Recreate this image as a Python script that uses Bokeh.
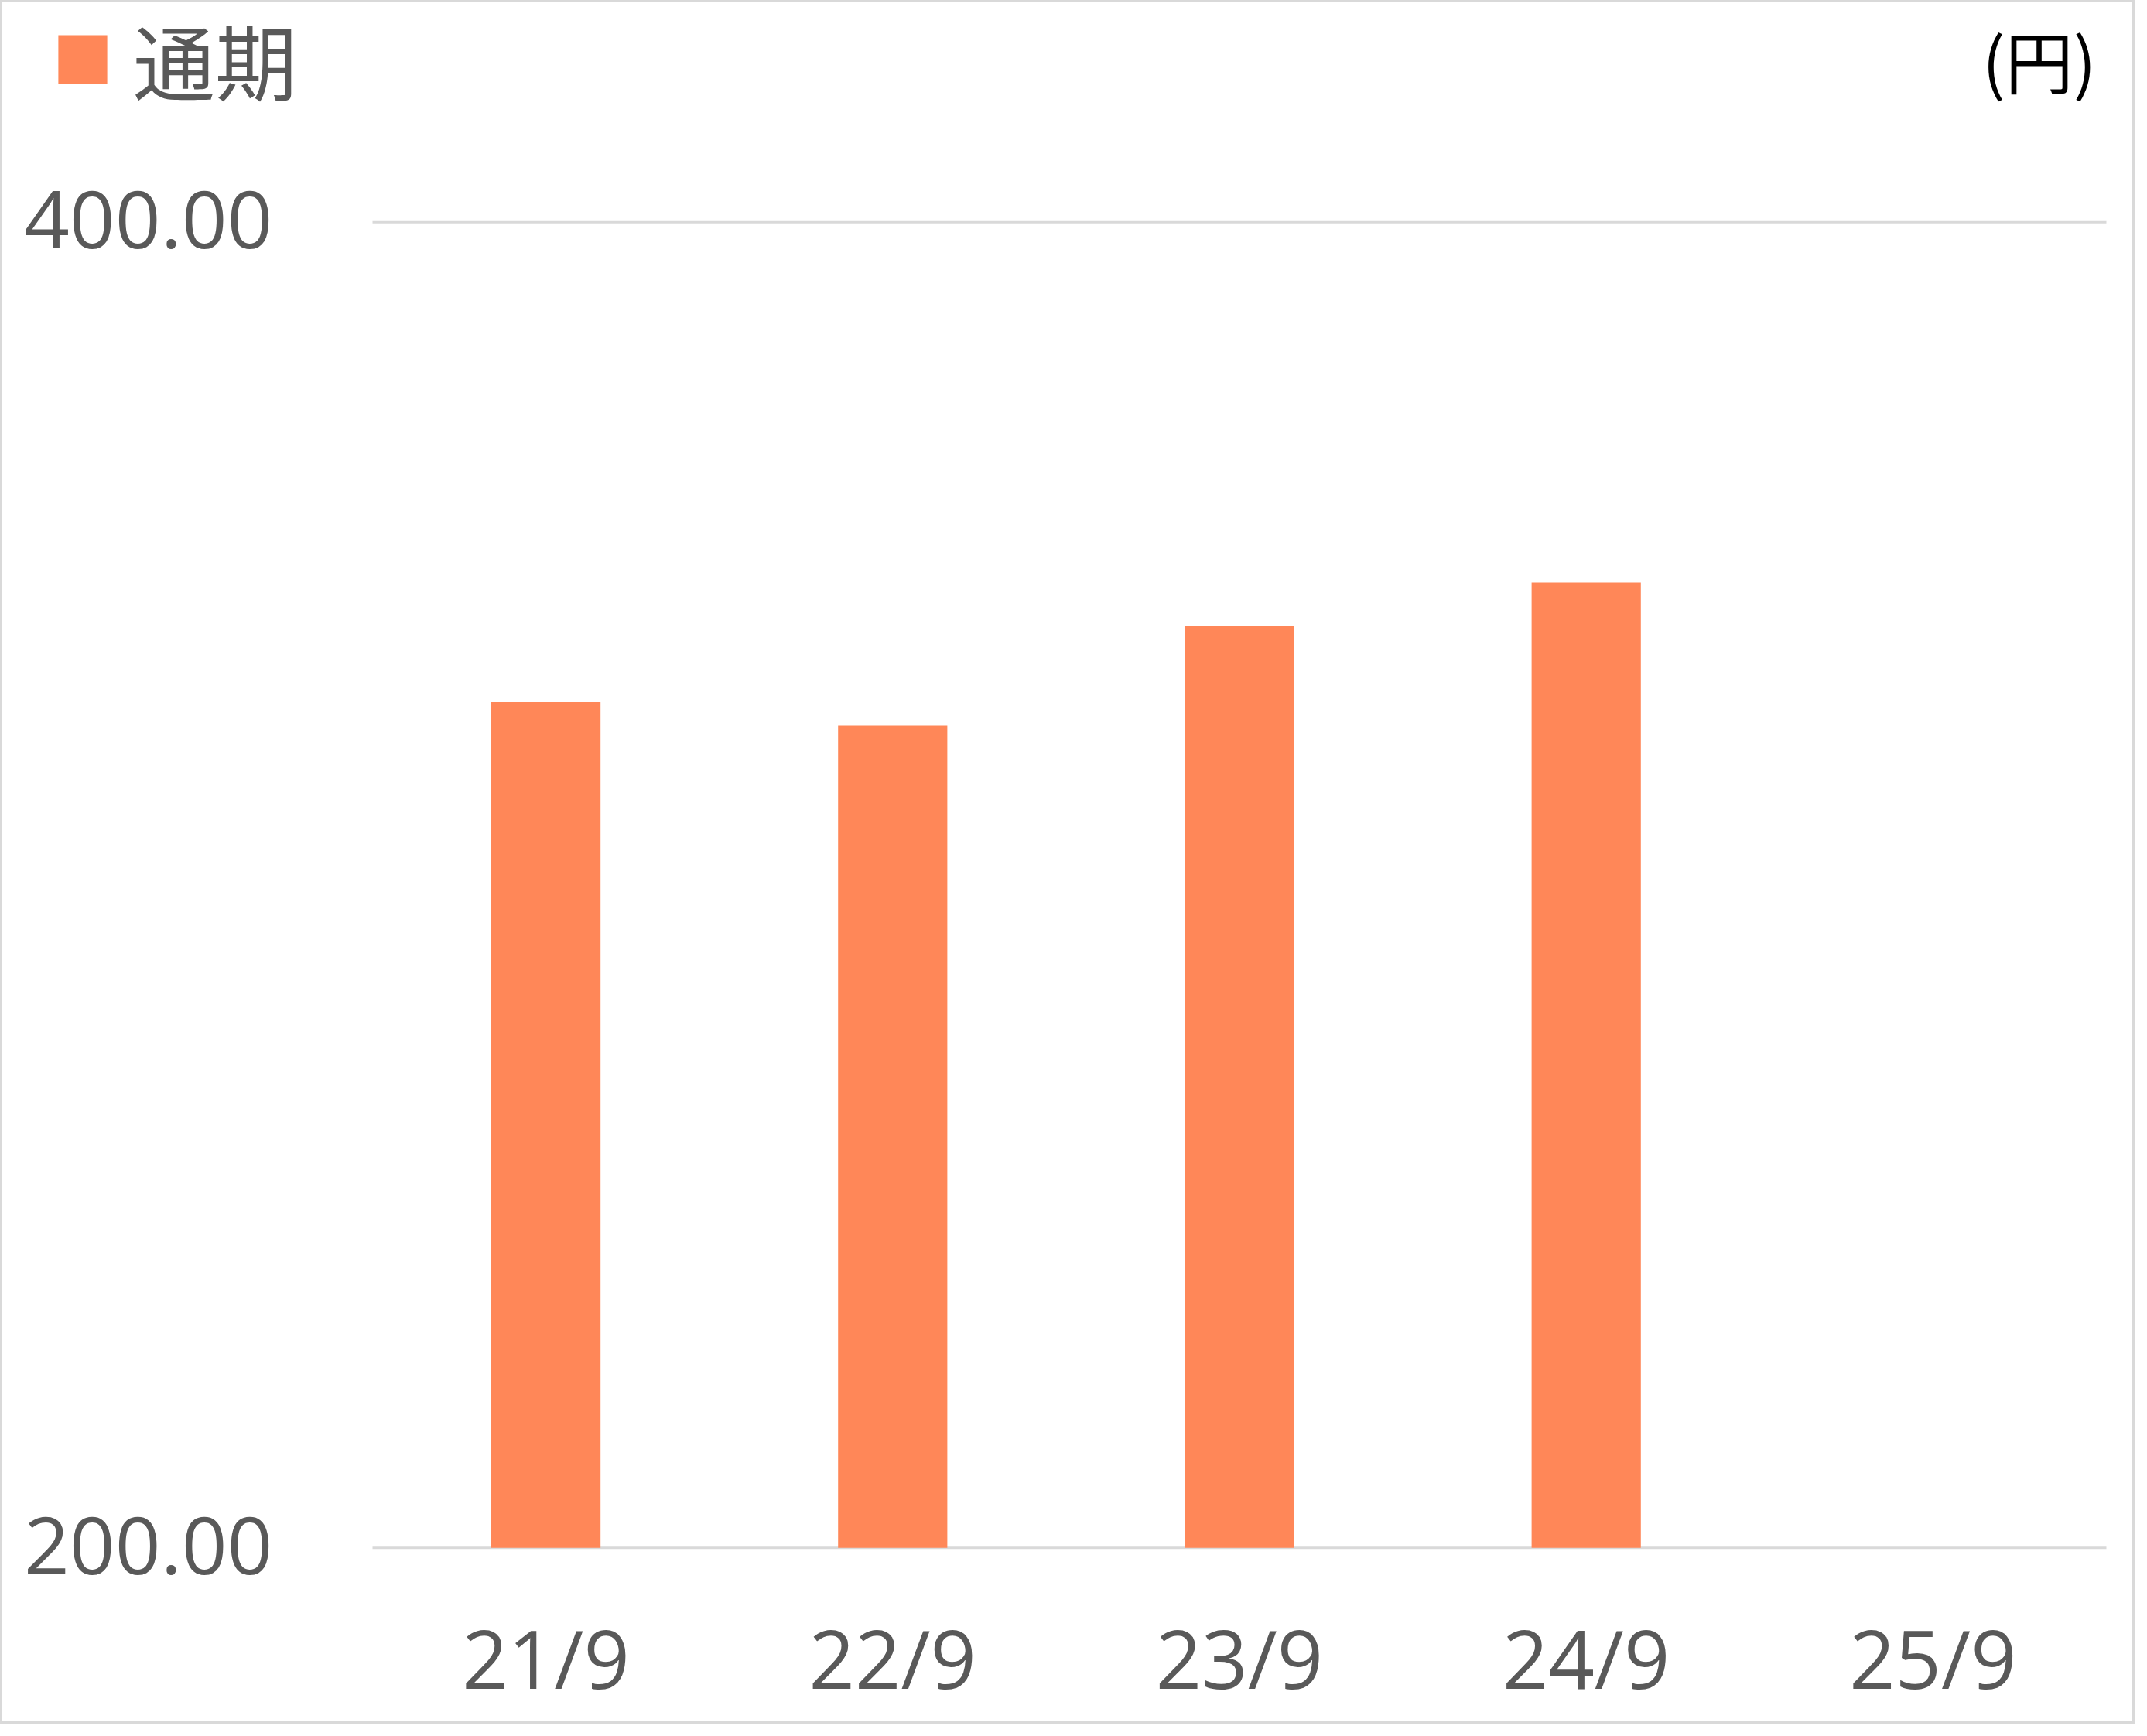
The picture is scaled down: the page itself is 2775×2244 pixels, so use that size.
from bokeh.plotting import figure
from bokeh.models import Range1d, Legend, LegendItem, Label, ColumnDataSource
from bokeh.core.properties import value
from bokeh.embed import file_html
from bokeh.resources import INLINE

# ---- data ----
categories = ["21/9", "22/9", "23/9", "24/9", "25/9"]
values = [327.6, 324.1, 339.1, 345.7, float("nan")]
series_name = "通期"
unit_label = "(円)"
y_ticks = [200, 400]
y_tick_labels = ["%.2f" % t for t in y_ticks]

# ---- styles / layout ----
BAR_COLOR = "#FF8758"
TEXT_COLOR = "#595959"
GRID_COLOR = "#D9D9D9"
W, H = 2759, 2228
PLOT_LEFT = 481.0          # px of left edge of category band
PX_PER_CAT = 448.2         # px per category band
Y_LO_PX, Y_HI_PX = 2000.3, 286.7   # px of the lowest / highest tick
PX_PER_UNIT = (Y_LO_PX - Y_HI_PX) / (y_ticks[-1] - y_ticks[0])
X0 = -0.5 - PLOT_LEFT / PX_PER_CAT
Y0 = y_ticks[-1] + Y_HI_PX / PX_PER_UNIT


def px_x(px):
    return X0 + px / PX_PER_CAT


def px_y(py):
    return Y0 - py / PX_PER_UNIT


xs = list(range(len(categories)))
src = ColumnDataSource(dict(x=xs, val=values, base=[y_ticks[0]] * len(categories)))

p = figure(width=W, height=H, output_backend="svg", toolbar_location=None,
           x_range=Range1d(px_x(0), px_x(W)), y_range=Range1d(px_y(H), px_y(0)),
           x_axis_location=None, y_axis_location=None, min_border=0)
p.grid.visible = False
p.background_fill_color = "white"
p.border_fill_color = "white"
p.outline_line_color = GRID_COLOR
p.outline_line_width = 5

# horizontal gridlines across the category bands
p.segment(x0=[-0.5] * len(y_ticks), x1=[len(categories) - 0.5] * len(y_ticks),
          y0=y_ticks, y1=y_ticks, line_color=GRID_COLOR, line_width=3)

r = p.vbar(x="x", top="val", bottom="base", width=0.315, source=src,
           fill_color=BAR_COLOR, line_color=None)

# y tick labels
p.text(x=[px_x(352)] * len(y_ticks), y=y_ticks, text=y_tick_labels,
       text_align="right", text_baseline="middle", y_offset=-3,
       text_font=value("Open Sans"), text_font_size="103px", text_color=TEXT_COLOR)

# category labels
p.text(x=xs, y=[px_y(2142)] * len(categories), text=categories,
       text_align="center", text_baseline="middle",
       text_font=value("Open Sans"), text_font_size="104px", text_color=TEXT_COLOR)

legend = Legend(items=[LegendItem(label=series_name, renderers=[r])],
                location=(67, H - 161),
                glyph_width=79, glyph_height=79, label_standoff=26, label_height=170,
                padding=0, margin=0, spacing=0,
                label_text_font="Noto Sans CJK JP", label_text_font_size="106px",
                label_text_color=TEXT_COLOR,
                border_line_color=None, background_fill_alpha=0)
p.add_layout(legend, "center")

p.add_layout(Label(x=px_x(2709), y=px_y(75), text=unit_label,
                   text_align="right", text_baseline="middle",
                   text_font="Noto Sans CJK JP", text_font_size="88px",
                   text_color="black"))

open("out.html", "w").write(file_html(p, INLINE))
